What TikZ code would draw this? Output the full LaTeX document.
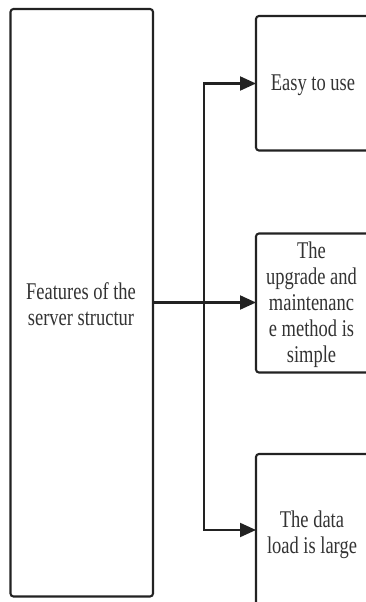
\documentclass[tikz,border=0pt]{standalone}
\usepackage{fontspec}
\setmainfont{Liberation Serif}[FakeStretch=0.77]
\usetikzlibrary{arrows.meta}
\definecolor{ink}{HTML}{222222}
\definecolor{txt}{HTML}{333333}
\tikzset{
  box/.style={draw=ink, line width=2.1pt, rounded corners=3pt, inner sep=0pt},
  lbl/.style={text=txt, font=\fontsize{24}{26}\selectfont, align=center},
  link/.style={draw=ink, line width=2.1pt, -{Triangle[length=16pt,width=14pt]}},
}
\begin{document}
\begin{tikzpicture}[x=1pt,y=-1pt]
\useasboundingbox (0,0) rectangle (365,602);
% left feature box
\draw[box] (10.5,9) rectangle (153,596.5);
\node[lbl] (src) at (81,304) {Features of the\\server structur};
\coordinate (srcR) at (153,302.5);
% right boxes (extend past the right margin)
\draw[box] (256,16) rectangle (372,150.5);
\draw[box] (256,233.5) rectangle (372,372.5);
\draw[box] (256,454) rectangle (372,610);
\node[lbl] (a) at (313,85) {Easy to use};
\node[lbl] (b) at (311.5,305) {The\\upgrade and\\maintenanc\\e method is\\simple};
\node[lbl] (c) at (312,535) {The data\\load is large};
\coordinate (aL) at (256,83.5);
\coordinate (bL) at (256,302.5);
\coordinate (cL) at (256,530);
\coordinate (busTop) at (204,83.5);
\coordinate (busBot) at (204,530);
% connectors
\draw[link] (srcR) -- (bL);
\draw[link] (busBot) -- (busTop) -- (aL);
\draw[link] (busTop) -- (busBot) -- (cL);
\end{tikzpicture}
\end{document}
